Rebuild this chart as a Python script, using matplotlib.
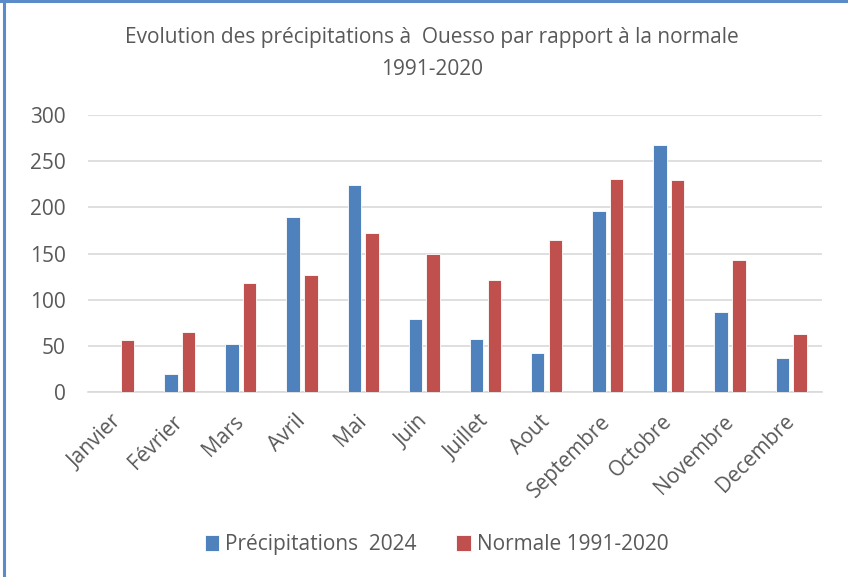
import numpy as np
import matplotlib.pyplot as plt
from matplotlib.lines import Line2D

mois = ["Janvier", "Février", "Mars", "Avril", "Mai", "Juin", "Juillet",
        "Aout", "Septembre", "Octobre", "Novembre", "Decembre"]
precip_2024 = [0, 20, 52, 189, 224, 79, 57, 42, 196, 267, 87, 37]
normale = [56, 65, 118, 127, 172, 150, 121, 165, 231, 230, 143, 63]

bleu = "#4F81BD"
rouge = "#C0504D"
gris = "#595959"

plt.rcParams["font.family"] = ["Open Sans", "DejaVu Sans"]

fig = plt.figure(figsize=(8.48, 5.77), dpi=100)
ax = fig.add_axes([0.1038, 0.3206, 0.8652, 0.4801])

x = np.arange(len(mois))
larg = 0.22
ax.bar(x - 0.145, precip_2024, larg, color=bleu, edgecolor="white", linewidth=0.6,
       label="Précipitations  2024", zorder=3)
ax.bar(x + 0.145, normale, larg, color=rouge, edgecolor="white", linewidth=0.6,
       label="Normale 1991-2020", zorder=3)

ax.set_xlim(-0.5, len(mois) - 0.5)
ax.set_ylim(0, 300)
ax.set_yticks(range(0, 301, 50))
ax.yaxis.grid(True, color="#d9d9d9", linewidth=1.2, zorder=0)
ax.set_axisbelow(True)
for s in ["top", "right", "left"]:
    ax.spines[s].set_visible(False)
ax.spines["bottom"].set_color("#d9d9d9")
ax.spines["bottom"].set_linewidth(1.2)
ax.tick_params(axis="both", length=0, colors=gris, labelsize=15)
ax.tick_params(axis="y", pad=16)
ax.tick_params(axis="x", pad=19)
ax.set_xticks(x)
ax.set_xticklabels(mois)
for lab in ax.get_xticklabels():
    lab.set_rotation(45)
    lab.set_ha("right")
    lab.set_va("center")
    lab.set_rotation_mode("anchor")

fig.text(0.509, 0.907, "Evolution des précipitations à  Ouesso par rapport à la normale\n1991-2020",
         ha="center", va="center", fontsize=15, color=gris, linespacing=1.65)

ax.legend(loc="center", bbox_to_anchor=(0.515, 0.056), bbox_transform=fig.transFigure,
          ncol=2, frameon=False, fontsize=15, labelcolor=gris, handlelength=0.7,
          handleheight=0.85, handletextpad=0.3, columnspacing=1.9)

# bordure du graphique (seulement haut et gauche visibles)
fig.add_artist(Line2D([0.0045, 0.0045], [0, 1], transform=fig.transFigure,
                      color="#5B8BC9", linewidth=2.2))
fig.add_artist(Line2D([0, 1], [0.999, 0.999], transform=fig.transFigure,
                      color="#5B8BC9", linewidth=2.2))

fig.savefig("out.png", dpi=100)
